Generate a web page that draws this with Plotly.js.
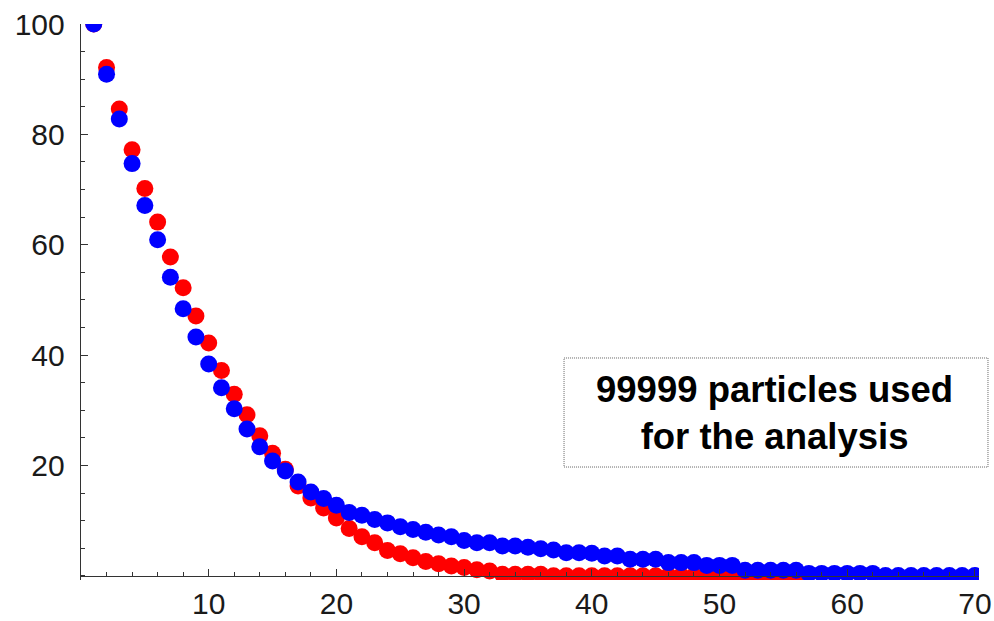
<!DOCTYPE html>
<html>
<head>
<meta charset="utf-8">
<script src="https://cdn.plot.ly/plotly-3.0.1.min.js"></script>
<style>
html,body{margin:0;padding:0;background:#fff;}
#chart{width:994px;height:621px;}
</style>
</head>
<body>
<div id="chart"></div>
<script>
const xRed = [1,2,3,4,5,6,7,8,9,10,11,12,13,14,15,16,17,18,19,20,21,22,23,24,25,26,27,28,29,30,31,32,33,34,35,36,37,38,39,40,41,42,43,44,45,46,47,48,49,50,51,52,53,54,55,56];
const redValues = [100,92.1,84.6,77.2,70.2,64.1,57.8,52.2,47.1,42.2,
  37.2,32.9,29.2,25.4,22.2,19.3,16.3,14.1,12.3,10.5,
  8.6,7.1,6.0,4.6,4.0,3.3,2.6,2.2,1.8,1.5,
  1.1,0.9,0.3,0.3,0.3,0.3,0,0,0,0,
  0,0,0,0,0,0,0,0,0,0,
  0,0,0,0,0,0];
const xBlue = [1,2,3,4,5,6,7,8,9,10,11,12,13,14,15,16,17,18,19,20,21,22,23,24,25,26,27,28,29,30,31,32,33,34,35,36,37,38,39,40,41,42,43,44,45,46,47,48,49,50,51,52,53,54,55,56,57,58,59,60,61,62,63,64,65,66,67,68,69,70];
const blueValues = [100,90.9,82.8,74.7,67.1,60.9,54.1,48.4,43.3,38.4,
  34.1,30.3,26.6,23.4,20.8,19.0,17.0,15.2,14.0,12.8,
  11.5,11.0,10.2,9.6,8.9,8.4,7.9,7.4,7.1,6.4,
  6.0,6.0,5.4,5.4,5.2,4.9,4.7,4.2,4.2,4.1,
  3.6,3.6,3.0,3.0,3.0,2.4,2.4,2.4,1.9,1.9,
  1.9,1.0,1.0,1.0,1.0,1.0,0.45,0.45,0.45,0.45,
  0.45,0.45,0.05,0.05,0.05,0.05,0.05,0.05,0.05,0.05];
const xTickVals = [10,20,30,40,50,60,70];
const xTickText = ["10","20","30","40","50","60","70"];
const yTickVals = [20,40,60,80,100];
const yTickText = ["20","40","60","80","100"];
const noteText = "<b>99999 particles used<br>for the analysis</b>";

const axisColor = '#333333';
const tickFont = {family: 'Liberation Sans, Arial, sans-serif', size: 30, color: '#1a1a1a'};

const traces = [
  {x: xRed, y: redValues, type: 'scatter', mode: 'markers',
   marker: {color: '#ff0000', size: 17, line: {width: 0}}, hoverinfo: 'skip'},
  {x: xBlue, y: blueValues, type: 'scatter', mode: 'markers',
   marker: {color: '#0000ff', size: 17, line: {width: 0}}, hoverinfo: 'skip'}
];

const layout = {
  width: 994, height: 621,
  margin: {l: 81, r: 15, t: 24, b: 41, pad: 0},
  paper_bgcolor: '#ffffff', plot_bgcolor: '#ffffff',
  showlegend: false,
  xaxis: {
    range: [0, 70.32], anchor: 'free', position: 0.75/100.75,
    showgrid: false, zeroline: false,
    showline: true, linecolor: axisColor, linewidth: 1.3,
    ticks: 'inside', ticklen: 7, tickwidth: 1, tickcolor: axisColor,
    tickmode: 'array', tickvals: xTickVals, ticktext: xTickText,
    tickfont: tickFont, ticklabelstandoff: 1,
    minor: {tickmode: 'linear', tick0: 0, dtick: 2, ticks: 'inside', ticklen: 4, tickwidth: 1, tickcolor: axisColor, showgrid: false}
  },
  yaxis: {
    range: [-0.75, 100],
    showgrid: false, zeroline: false,
    showline: true, linecolor: axisColor, linewidth: 1.3,
    ticks: 'inside', ticklen: 7, tickwidth: 1, tickcolor: axisColor,
    tickmode: 'array', tickvals: yTickVals, ticktext: yTickText,
    tickfont: tickFont, ticklabelstandoff: 9,
    minor: {tickmode: 'linear', tick0: 0, dtick: 5, ticks: 'inside', ticklen: 4, tickwidth: 1, tickcolor: axisColor, showgrid: false}
  },
  shapes: [{
    type: 'rect', xref: 'paper', yref: 'paper',
    x0: 0.5379, x1: 1.0100, y0: 0.2032, y1: 0.3993,
    line: {color: '#666666', width: 1, dash: '1px,1px'}, fillcolor: 'rgba(0,0,0,0)', layer: 'above'
  }],
  annotations: [{
    text: noteText, xref: 'paper', yref: 'paper', x: 0.7728, y: 0.2995,
    xanchor: 'center', yanchor: 'middle', showarrow: false, align: 'center',
    font: {family: 'Liberation Sans, Arial, sans-serif', size: 36.5, color: '#000000'}
  }]
};

Plotly.newPlot('chart', traces, layout, {displayModeBar: false, staticPlot: true});
</script>
</body>
</html>
